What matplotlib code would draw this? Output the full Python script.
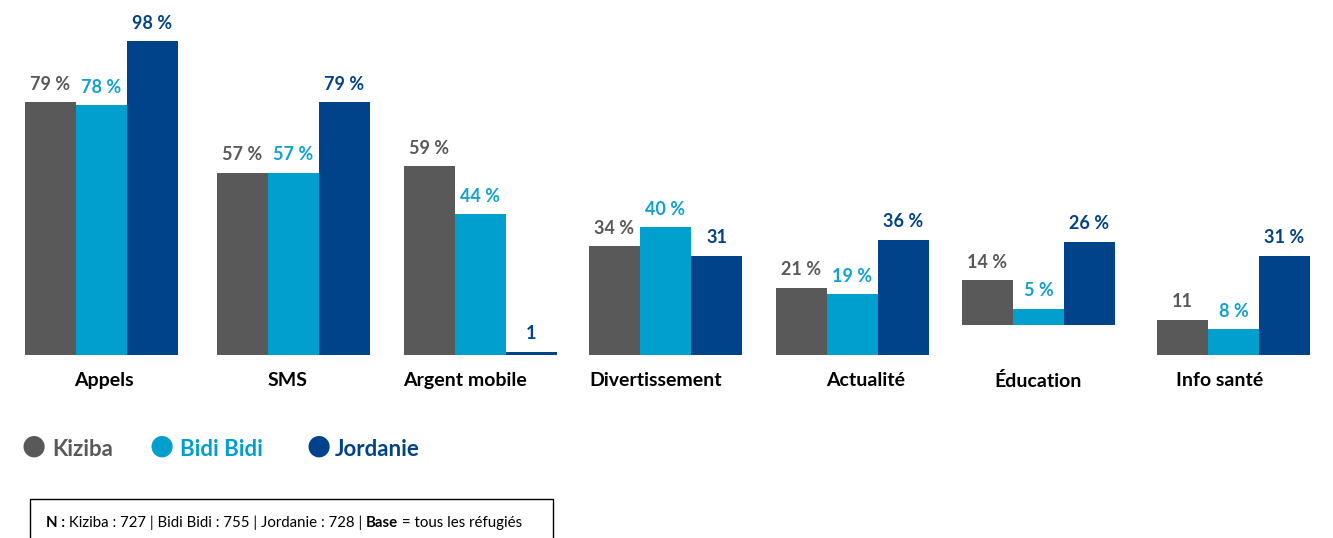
import matplotlib
matplotlib.use("Agg")
import matplotlib.pyplot as plt
import numpy as np
from matplotlib.patches import Rectangle

plt.rcParams['font.family'] = ['Lato', 'DejaVu Sans']

categories = ["Appels", "SMS", "Argent mobile", "Divertissement", "Actualité", "Éducation", "Info santé"]
series_names = ["Kiziba", "Bidi Bidi", "Jordanie"]
kiziba = [79, 57, 59, 34, 21, 14, 11]
bidibidi = [78, 57, 44, 40, 19, 5, 8]
jordanie = [98, 79, 1, 31, 36, 26, 31]
kiziba_labels = ["79 %", "57 %", "59 %", "34 %", "21 %", "14 %", "11"]
bidibidi_labels = ["78 %", "57 %", "44 %", "40 %", "19 %", "5 %", "8 %"]
jordanie_labels = ["98 %", "79 %", "1", "31", "36 %", "26 %", "31 %"]
footnote_parts = [("N :", True), (" Kiziba : 727 | Bidi Bidi : 755 | Jordanie : 728 | ", False),
                  ("Base", True), (" = tous les réfugiés", False)]

colors = ["#595959", "#009FCE", "#00438A"]
label_colors = ["#595959", "#11A0D0", "#00438A"]

W, H = 1333, 538
fig = plt.figure(figsize=(W / 100, H / 100), dpi=100)

spacing = 188.75
x0 = 101
ax = fig.add_axes([0, 1 - 355 / H, 1, 320 / H])
ax.set_xlim(-x0 / spacing, (W - x0) / spacing)
ax.set_ylim(0, 100)
ax.axis("off")

# the Éducation group sits on a raised baseline in the reference
base = np.zeros(len(categories))
base[categories.index("Éducation")] = 9.4

# slight irregular group spacing of the reference (px)
group_dx = np.array([0, 3.75, 2, -1.75, -3.5, -6.25, 0])
x = np.arange(len(categories)) + group_dx / spacing
bw = 51 / spacing
all_vals = [kiziba, bidibidi, jordanie]
all_labels = [kiziba_labels, bidibidi_labels, jordanie_labels]
for k, (vals, labs) in enumerate(zip(all_vals, all_labels)):
    xs = x + (k - 1) * bw
    ax.bar(xs, vals, width=bw, bottom=base, color=colors[k], linewidth=0)
    for xi, v, b, lab in zip(xs, vals, base, labs):
        ax.text(xi, b + v + 5.6, lab, ha="center", va="center", fontsize=13,
                fontweight="bold", color=label_colors[k], clip_on=False)

# category labels (slight horizontal offsets as in the reference, in px)
label_dx = [3, -5.5, -15.5, -9.5, 13.5, -0.5, -13.5]
for xi, c, dx in zip(x, categories, label_dx):
    ax.text(xi + dx / spacing, -8, c, ha="center", va="center", fontsize=14,
            fontweight="bold", color="black", clip_on=False)

# legend
circle_x = [34, 162, 319]
text_x = [52, 180, 335]
for cx, tx, name, c in zip(circle_x, text_x, series_names, colors):
    fig.text(cx / W, 1 - 446 / H, "\u25CF", ha="center", va="center", fontsize=20, color=c,
             family="DejaVu Sans")
    fig.text(tx / W, 1 - 449 / H, name, ha="left", va="center", fontsize=16,
             fontweight="bold", color=c)

# footnote box
fig.patches.append(Rectangle((30 / W, -0.05), (553 - 30) / W, (0.05 + 1 - 499 / H),
                             transform=fig.transFigure, fill=False, edgecolor="black",
                             linewidth=1.0))
renderer = fig.canvas.get_renderer()
cur_x = 46 / W
fy = 1 - 523 / H
for txt, bold in footnote_parts:
    t = fig.text(cur_x, fy, txt, ha="left", va="center", fontsize=10.8,
                 fontweight="bold" if bold else "normal", color="black")
    bb = t.get_window_extent(renderer=renderer)
    cur_x += bb.width / W

fig.savefig("out.png", dpi=100)
